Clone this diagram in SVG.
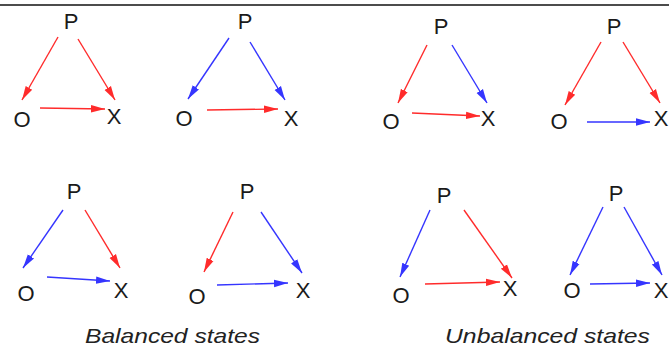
<svg xmlns="http://www.w3.org/2000/svg" width="669" height="350" viewBox="0 0 669 350">
<style>
.n{font-family:"Liberation Sans",Arial,sans-serif;font-size:22px;fill:#1a1a1a;text-anchor:middle}
.cap{font-family:"Liberation Sans",Arial,sans-serif;font-size:21px;font-style:italic;fill:#222}
.r{stroke:#ff2b2b;stroke-width:1.4;fill:none;marker-end:url(#ar)}
.b{stroke:#3535ff;stroke-width:1.4;fill:none;marker-end:url(#ab)}
</style>
<defs>
<marker id="ar" markerUnits="userSpaceOnUse" markerWidth="14" markerHeight="10" viewBox="0 0 12 8" refX="12" refY="4" orient="auto"><path d="M0,0.8 L12,4 L0,7.2 Z" fill="#ff2b2b"/></marker>
<marker id="ab" markerUnits="userSpaceOnUse" markerWidth="14" markerHeight="10" viewBox="0 0 12 8" refX="12" refY="4" orient="auto"><path d="M0,0.8 L12,4 L0,7.2 Z" fill="#3535ff"/></marker>
</defs>
<rect width="669" height="350" fill="#fff"/>
<line x1="0" y1="5" x2="669" y2="5" stroke="#111" stroke-width="1.6"/>
<g id="connectors">
<line class="r" x1="58" y1="37" x2="22" y2="100"/>
<line class="r" x1="78" y1="39" x2="115" y2="100"/>
<line class="r" x1="40" y1="108" x2="105" y2="109"/>
<line class="b" x1="229" y1="38" x2="188" y2="99"/>
<line class="b" x1="250" y1="42" x2="285" y2="100"/>
<line class="r" x1="207" y1="110" x2="278" y2="109"/>
<line class="r" x1="427" y1="45" x2="398" y2="103"/>
<line class="b" x1="452" y1="45" x2="487" y2="103"/>
<line class="r" x1="412" y1="113" x2="480" y2="116"/>
<line class="r" x1="601" y1="42" x2="565" y2="105"/>
<line class="r" x1="623" y1="42" x2="660" y2="103"/>
<line class="b" x1="587" y1="122" x2="650" y2="122"/>
<line class="b" x1="63" y1="210" x2="23" y2="268"/>
<line class="r" x1="85" y1="210" x2="120" y2="268"/>
<line class="b" x1="47" y1="277" x2="110" y2="281"/>
<line class="r" x1="233" y1="212" x2="204" y2="272"/>
<line class="b" x1="261" y1="212" x2="302" y2="273"/>
<line class="b" x1="217" y1="285" x2="288" y2="283"/>
<line class="b" x1="430" y1="210" x2="400" y2="277"/>
<line class="r" x1="464" y1="210" x2="512" y2="278"/>
<line class="r" x1="425" y1="284" x2="500" y2="282"/>
<line class="b" x1="603" y1="207" x2="570" y2="275"/>
<line class="b" x1="624" y1="207" x2="662" y2="275"/>
<line class="b" x1="590" y1="284" x2="650" y2="283"/>
</g>
<g id="t1-P"><text class="n" x="71" y="29">P</text></g>
<g id="t1-O"><text class="n" x="22" y="127">O</text></g>
<g id="t1-X"><text class="n" x="114" y="124">X</text></g>
<g id="t2-P"><text class="n" x="245" y="29">P</text></g>
<g id="t2-O"><text class="n" x="184" y="126">O</text></g>
<g id="t2-X"><text class="n" x="291" y="126">X</text></g>
<g id="t3-P"><text class="n" x="441" y="34">P</text></g>
<g id="t3-O"><text class="n" x="391" y="129">O</text></g>
<g id="t3-X"><text class="n" x="488" y="126">X</text></g>
<g id="t4-P"><text class="n" x="614" y="34">P</text></g>
<g id="t4-O"><text class="n" x="559" y="129">O</text></g>
<g id="t4-X"><text class="n" x="661" y="126">X</text></g>
<g id="t5-P"><text class="n" x="74" y="199">P</text></g>
<g id="t5-O"><text class="n" x="26" y="301">O</text></g>
<g id="t5-X"><text class="n" x="121" y="298">X</text></g>
<g id="t6-P"><text class="n" x="247" y="199">P</text></g>
<g id="t6-O"><text class="n" x="197" y="304">O</text></g>
<g id="t6-X"><text class="n" x="303" y="298">X</text></g>
<g id="t7-P"><text class="n" x="444" y="203">P</text></g>
<g id="t7-O"><text class="n" x="401" y="303">O</text></g>
<g id="t7-X"><text class="n" x="510" y="296">X</text></g>
<g id="t8-P"><text class="n" x="616" y="201">P</text></g>
<g id="t8-O"><text class="n" x="572" y="298">O</text></g>
<g id="t8-X"><text class="n" x="661" y="298">X</text></g>
<g id="captions">
<text class="cap" x="85" y="343" textLength="175" lengthAdjust="spacingAndGlyphs">Balanced states</text>
<text class="cap" x="445" y="343" textLength="205" lengthAdjust="spacingAndGlyphs">Unbalanced states</text>
</g>
</svg>
